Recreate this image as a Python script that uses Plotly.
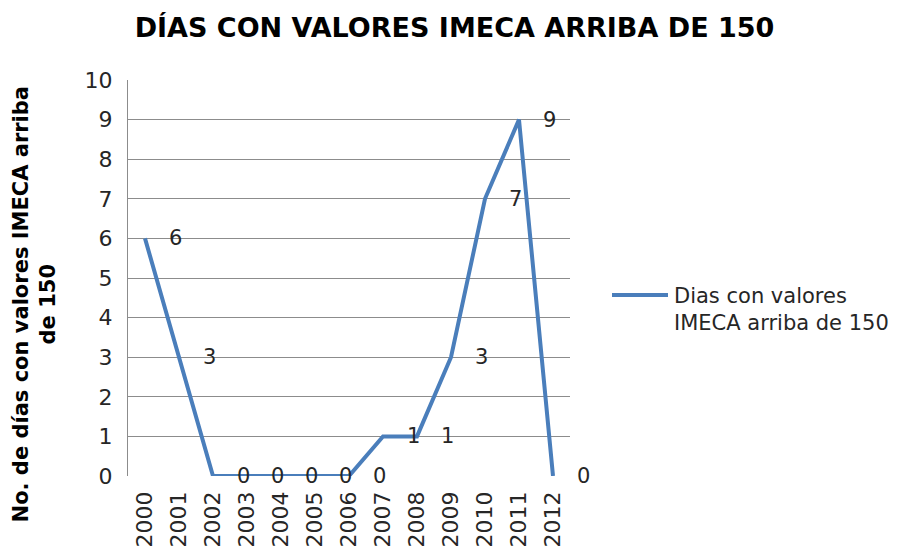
import plotly.graph_objects as go

# Yearly counts of days with IMECA above 150
years = ["2000", "2001", "2002", "2003", "2004", "2005", "2006",
         "2007", "2008", "2009", "2010", "2011", "2012"]
days = [6, 3, 0, 0, 0, 0, 0, 1, 1, 3, 7, 9, 0]
y_ticks = list(range(0, 11))

series_name = "Dias con valores IMECA arriba de 150"
line_color = "#4A7EBB"
text_color = "#262626"
grid_color = "#8C8C8C"
font_family = "'DejaVu Sans', Verdana, sans-serif"

fig = go.Figure()
fig.add_trace(go.Scatter(
    x=years, y=days, mode="lines", name=series_name,
    line=dict(color=line_color, width=4),
    showlegend=False, cliponaxis=False,
))

# value labels beside each point (category index on the x axis)
for i, v in enumerate(days):
    fig.add_annotation(
        x=i, y=v, xref="x", yref="y", text=str(v), showarrow=False,
        xshift=30, font=dict(size=21, color=text_color, family=font_family),
    )

# y-axis title
fig.add_annotation(
    xref="paper", yref="paper", x=0, y=0.432, xshift=-121,
    text="No. de días con valores IMECA arriba<br>de 150",
    textangle=-90, showarrow=False, align="center",
    font=dict(size=21, color="#000000", family=font_family, weight="bold"),
)

# legend entry
fig.add_shape(
    type="line", xref="paper", yref="paper",
    x0=(612 - 128) / 442, x1=(668 - 128) / 442,
    y0=(476 - 295) / 396, y1=(476 - 295) / 396,
    line=dict(color=line_color, width=4),
)
fig.add_annotation(
    xref="paper", yref="paper", x=(672 - 128) / 442, y=(476 - 295) / 396,
    xanchor="left", yanchor="middle", yshift=-14, align="left",
    text="Dias con valores<br>IMECA arriba de 150", showarrow=False,
    font=dict(size=21, color=text_color, family=font_family),
)

fig.update_layout(
    width=909, height=549,
    margin=dict(l=128, r=339, t=80, b=73),
    paper_bgcolor="white", plot_bgcolor="white",
    font=dict(family=font_family, color=text_color, size=21),
    title=dict(
        text="DÍAS CON VALORES IMECA ARRIBA DE 150",
        x=0.5, xanchor="center", y=1, yref="container", yanchor="top", pad=dict(t=18),
        font=dict(size=27, color="#000000", family=font_family, weight="bold"),
    ),
    xaxis=dict(
        type="category", categoryarray=years, range=[-0.5, 12.5],
        showgrid=False, showline=False, zeroline=False, automargin=False,
        tickangle=-90, ticks="", ticklabelstandoff=10,
        tickfont=dict(size=22, color=text_color),
    ),
    yaxis=dict(
        range=[0, 10], tickvals=y_ticks, automargin=False,
        showgrid=True, gridcolor=grid_color, gridwidth=1,
        showline=True, linecolor=grid_color, linewidth=1,
        zeroline=False, ticks="", ticklabelstandoff=10,
        tickfont=dict(size=22, color=text_color),
    ),
)

fig.write_html("out.html")
